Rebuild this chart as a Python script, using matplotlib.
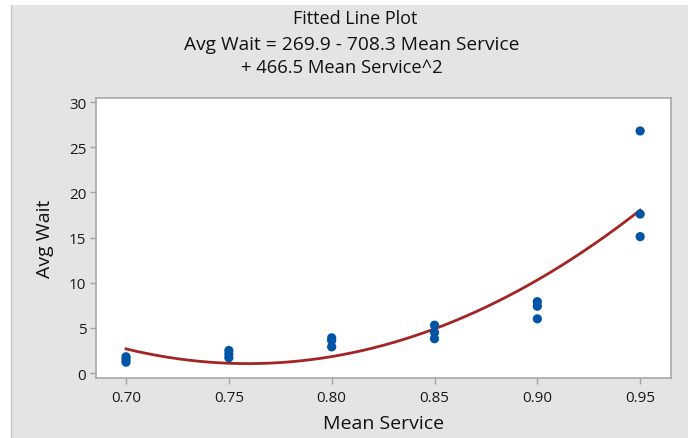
import numpy as np
import matplotlib.pyplot as plt
from matplotlib.patches import Rectangle

plt.rcParams['font.family'] = ['Open Sans', 'DejaVu Sans']

# 观测数据: 平均服务率 与 平均等待时间
mean_service = [0.70, 0.70, 0.70,
                0.75, 0.75, 0.75,
                0.80, 0.80, 0.80,
                0.85, 0.85, 0.85,
                0.90, 0.90, 0.90,
                0.95, 0.95, 0.95]
avg_wait = [1.2, 1.5, 1.8,
            1.7, 2.1, 2.5,
            2.9, 3.6, 3.9,
            3.8, 4.5, 5.3,
            6.0, 7.4, 7.9,
            15.1, 17.6, 26.8]

# 二次拟合系数 (常数项, 一次项, 二次项)
coef = [269.9, -708.3, 466.5]

x_ticks = [0.70, 0.75, 0.80, 0.85, 0.90, 0.95]
y_ticks = [0, 5, 10, 15, 20, 25, 30]

fig = plt.figure(figsize=(6.88, 4.39), dpi=100, facecolor='white')
# 灰色底板
fig.patches.append(Rectangle((12 / 688, 0), 1, 1 - 6 / 439, transform=fig.transFigure,
                             facecolor='#e4e4e4', edgecolor='none', zorder=-2))
fig.lines.append(plt.Line2D([11.5 / 688, 11.5 / 688], [0, 1 - 6 / 439],
                            transform=fig.transFigure, color='#c8c8c8', lw=1, zorder=-1))

ax = fig.add_axes([96 / 688, 1 - 379 / 439, 575 / 688, 280 / 439])
ax.set_zorder(1)
ax.set_facecolor('white')

xs = np.linspace(min(mean_service), max(mean_service), 200)
ys = coef[0] + coef[1] * xs + coef[2] * xs ** 2
ax.plot(xs, ys, color='#a32424', lw=2, zorder=2)
ax.scatter(mean_service, avg_wait, s=44, color='#0054a6', edgecolors='none', zorder=3)

ax.set_xlim(0.6854, 0.965)
ax.set_ylim(-0.55, 30.45)
ax.set_xticks(x_ticks)
ax.set_xticklabels(['%.2f' % v for v in x_ticks])
ax.set_yticks(y_ticks)

for sp in ax.spines.values():
    sp.set_color('#a8a8a8')
    sp.set_linewidth(1.2)
ax.tick_params(axis='both', direction='out', length=4, width=1, color='#a0a0a0',
               labelsize=11, labelcolor='#1a1a1a')
ax.tick_params(axis='x', pad=5)
ax.tick_params(axis='y', pad=3)

ax.set_xlabel('Mean Service', fontsize=14, color='#111111', labelpad=6)
ax.set_ylabel('Avg Wait', fontsize=14, color='#111111', labelpad=11)

fig.text(355 / 688, 1 - 19 / 439, 'Fitted Line Plot', ha='center', va='center',
         fontsize=13, color='#111111')
fig.text(352 / 688, 1 - 45 / 439, 'Avg Wait = 269.9 - 708.3 Mean Service', ha='center',
         va='center', fontsize=13.8, color='#111111')
fig.text(342 / 688, 1 - 68 / 439, '+ 466.5 Mean Service^2', ha='center', va='center',
         fontsize=13.2, color='#111111')

fig.savefig('out.png', dpi=100, facecolor=fig.get_facecolor())
